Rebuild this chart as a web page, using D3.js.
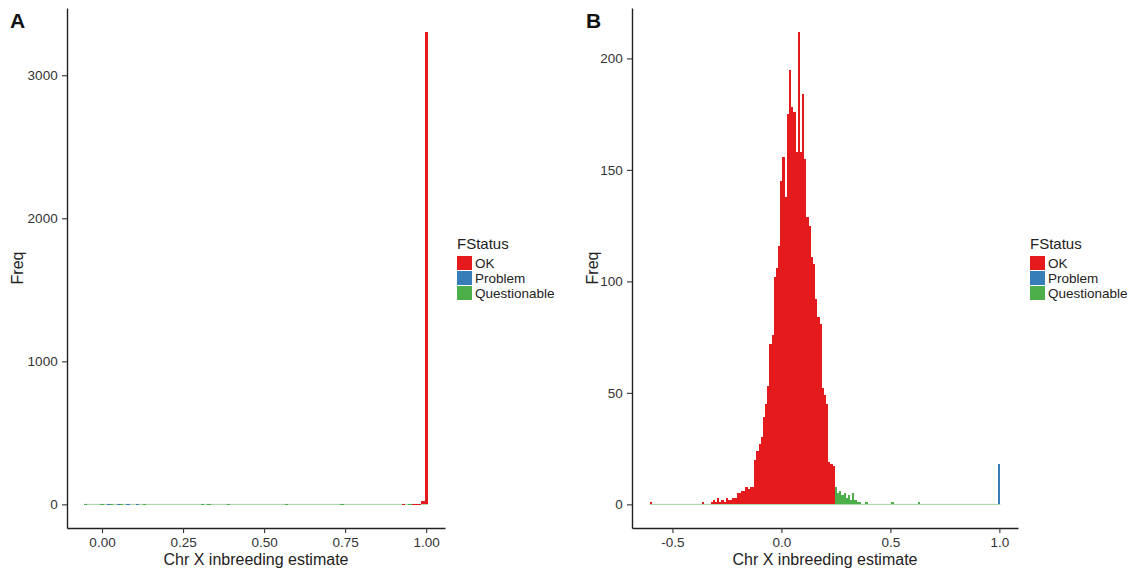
<!DOCTYPE html>
<html>
<head>
<meta charset="utf-8">
<script src="https://cdn.jsdelivr.net/npm/d3@7"></script>
<style>
  body { margin: 0; background: #fff; }
  text { font-family: "Liberation Sans", Arial, sans-serif; }
</style>
</head>
<body>
<svg id="chart"></svg>
<script>
// figure size
var screenWidth = 1130,
    screenHeight = 571;

var statuses = ["OK", "Problem", "Questionable"];
var statusColors = ["#e41a1c", "#377eb8", "#4daf4a"];

// Panel A - histogram bins, [bin centre, count]
var okA = [[0.93, 1], [0.96, 1], [0.97, 2], [0.98, 2], [0.99, 25], [1.00, 3305]];
var problemA = [[0.02, 1], [0.05, 1], [0.08, 1], [0.11, 1]];
var questA = [[-0.05, 1], [0.00, 1], [0.03, 1], [0.06, 1], [0.13, 1], [0.31, 1],
              [0.33, 1], [0.39, 1], [0.57, 1], [0.74, 1], [0.95, 1]];
var xTicksA = [0, 0.25, 0.5, 0.75, 1];
var yTicksA = [0, 1000, 2000, 3000];

// Panel B - histogram bins, [bin centre, count]
var okB = [[-0.60, 1], [-0.36, 1], [-0.32, 1], [-0.31, 2], [-0.30, 1], [-0.29, 3],
           [-0.28, 1], [-0.27, 2], [-0.26, 1], [-0.25, 3], [-0.24, 2], [-0.23, 2],
           [-0.22, 3], [-0.21, 3], [-0.20, 5], [-0.19, 5], [-0.18, 6], [-0.17, 6],
           [-0.16, 8], [-0.15, 7], [-0.14, 8], [-0.13, 8], [-0.12, 20], [-0.11, 24],
           [-0.10, 27], [-0.09, 30], [-0.08, 39], [-0.07, 45], [-0.06, 53], [-0.05, 72],
           [-0.04, 76], [-0.03, 102], [-0.02, 106], [-0.01, 116], [0.00, 145], [0.01, 156],
           [0.02, 138], [0.03, 175], [0.04, 195], [0.05, 178], [0.06, 176], [0.07, 158],
           [0.08, 212], [0.09, 158], [0.10, 184], [0.11, 155], [0.12, 129], [0.13, 125],
           [0.14, 111], [0.15, 108], [0.16, 92], [0.17, 84], [0.18, 81], [0.19, 52],
           [0.20, 49], [0.21, 45], [0.22, 19], [0.23, 18], [0.24, 17]];
var problemB = [[1.00, 18]];
var questB = [[0.25, 8], [0.26, 5], [0.27, 6], [0.28, 4], [0.29, 5], [0.30, 3],
              [0.31, 4], [0.32, 2], [0.33, 5], [0.34, 2], [0.35, 1], [0.36, 1],
              [0.39, 1], [0.51, 1], [0.63, 1]];
var xTicksB = [-0.5, 0, 0.5, 1];
var yTicksB = [0, 50, 100, 150, 200];

var binWidth = 0.01;

var svg = d3.select("#chart")
            .attr("width", screenWidth)
            .attr("height", screenHeight);

function drawPanel(p) {
  var g = svg.append("g");
  var groups = [p.ok, p.problem, p.quest];

  // bin table for stacking
  var table = {};
  groups.forEach(function(arr, i) {
    arr.forEach(function(d) {
      var k = d[0].toFixed(2);
      if (!table[k]) table[k] = {x: d[0], OK: 0, Problem: 0, Questionable: 0};
      table[k][statuses[i]] += d[1];
    });
  });
  var rows = Object.values(table).sort(function(a, b) { return a.x - b.x; });
  var series = d3.stack().keys(statuses)(rows);

  var xMin = d3.min(rows, function(d) { return d.x; }) - binWidth / 2,
      xMax = d3.max(rows, function(d) { return d.x; }) + binWidth / 2,
      xPad = (xMax - xMin) * 0.05;
  var yMax = d3.max(rows, function(d) { return d.OK + d.Problem + d.Questionable; }),
      yPad = yMax * 0.05;

  var xScale = d3.scaleLinear().domain([xMin - xPad, xMax + xPad]).range([p.left, p.right]);
  var yScale = d3.scaleLinear().domain([-yPad, yMax + yPad]).range([p.bottom, p.top]);

  // zero-count baseline of the top layer
  g.append("line")
   .attr("x1", xScale(xMin)).attr("x2", xScale(xMax))
   .attr("y1", yScale(0)).attr("y2", yScale(0))
   .attr("stroke", "#4daf4a").attr("stroke-opacity", 0.55).attr("stroke-width", 1);

  series.forEach(function(s, i) {
    g.append("g")
     .selectAll("rect")
     .data(s.filter(function(d) { return d[1] > d[0]; }))
     .enter().append("rect")
     .attr("x", function(d) { return xScale(d.data.x - binWidth / 2); })
     .attr("width", function(d) { return xScale(d.data.x + binWidth / 2) - xScale(d.data.x - binWidth / 2); })
     .attr("y", function(d) { return yScale(d[1]); })
     .attr("height", function(d) { return Math.max(1, yScale(d[0]) - yScale(d[1])); })
     .attr("fill", statusColors[i])
     .attr("shape-rendering", "crispEdges");
  });

  // axes
  var xAxis = g.append("g")
   .attr("transform", "translate(0," + p.bottom + ")")
   .call(d3.axisBottom(xScale).tickValues(p.xTicks).tickSize(5).tickSizeOuter(0)
          .tickFormat(function(d) { return d.toFixed(p.xDigits); }));
  var yAxis = g.append("g")
   .attr("transform", "translate(" + p.left + ",0)")
   .call(d3.axisLeft(yScale).tickValues(p.yTicks).tickSize(5).tickSizeOuter(0)
          .tickFormat(d3.format("d")));

  [xAxis, yAxis].forEach(function(a) {
    a.select(".domain").attr("stroke", "#222").attr("stroke-width", 1.4);
    a.selectAll(".tick line").attr("stroke", "#333").attr("stroke-width", 1.1);
    a.selectAll(".tick text").attr("fill", "#333").style("font-size", "13.5px");
  });
  xAxis.selectAll(".tick text").attr("dy", "0.85em");
  yAxis.selectAll(".tick text").attr("dx", "-0.1em");

  // axis titles
  g.append("text")
   .attr("x", (p.left + p.right) / 2)
   .attr("y", p.bottom + 37)
   .style("text-anchor", "middle")
   .style("font-size", "16px")
   .attr("fill", "#222")
   .text("Chr X inbreeding estimate");

  g.append("text")
   .attr("transform", "translate(" + p.yTitleX + "," + ((p.top + p.bottom) / 2) + ") rotate(-90)")
   .style("text-anchor", "middle")
   .style("font-size", "16px")
   .attr("fill", "#222")
   .text("Freq");

  // panel tag
  g.append("text")
   .attr("x", p.tagX).attr("y", 28)
   .style("font-size", "21px").style("font-weight", "bold")
   .attr("fill", "#111")
   .text(p.tag);

  // legend
  var leg = g.append("g").attr("transform", "translate(" + p.legendX + ",249)");
  leg.append("text")
     .attr("x", 0).attr("y", 0)
     .style("font-size", "15px").attr("fill", "#222")
     .text("FStatus");
  statuses.forEach(function(s, i) {
    leg.append("rect")
       .attr("x", 0).attr("y", 7 + i * 15)
       .attr("width", 15).attr("height", 14)
       .attr("fill", statusColors[i]);
    leg.append("text")
       .attr("x", 18).attr("y", 19 + i * 15)
       .style("font-size", "13.5px").attr("fill", "#222")
       .text(s);
  });
}

drawPanel({ok: okA, problem: problemA, quest: questA, xTicks: xTicksA, yTicks: yTicksA,
           xDigits: 2, left: 67, right: 445, top: 8, bottom: 528,
           yTitleX: 23, tag: "A", tagX: 10, legendX: 457});

drawPanel({ok: okB, problem: problemB, quest: questB, xTicks: xTicksB, yTicks: yTicksB,
           xDigits: 1, left: 632, right: 1018, top: 8, bottom: 528,
           yTitleX: 598, tag: "B", tagX: 586, legendX: 1030});
</script>
</body>
</html>
